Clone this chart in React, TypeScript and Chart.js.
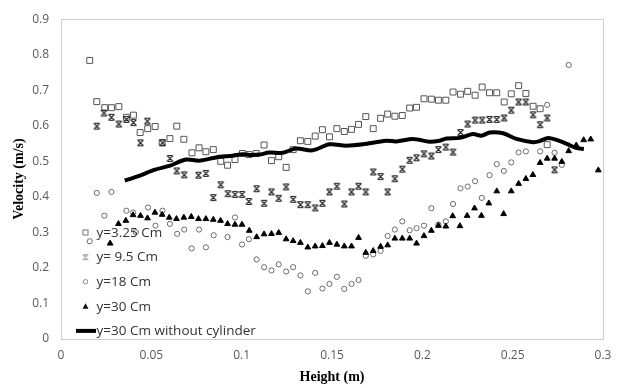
import React, { useEffect, useRef } from 'react';
import { Chart, registerables } from 'chart.js';
Chart.register(...registerables);

// y = 3.25 Cm (squares)
const hA = [0.0159,0.0198,0.0242,0.0279,0.032,0.0362,0.0401,0.0438,0.048,0.0521,0.056,0.0603,0.0641,0.068,0.0725,0.0764,0.0802,0.0843,0.0884,0.0922,0.0963,0.1004,0.104,0.108,0.1124,0.1165,0.1205,0.1246,0.1285,0.1325,0.1366,0.1407,0.1447,0.1486,0.1527,0.1568,0.1608,0.1647,0.1687,0.1728,0.1769,0.1808,0.1848,0.1889,0.193,0.1968,0.2009,0.205,0.2089,0.213,0.217,0.2211,0.2251,0.2292,0.2331,0.2372,0.2412,0.2453,0.2492,0.2533,0.2573,0.2613,0.2652,0.2691];
const vA = [0.784,0.668,0.651,0.651,0.654,0.624,0.630,0.581,0.592,0.598,0.553,0.564,0.599,0.562,0.524,0.538,0.527,0.533,0.500,0.489,0.505,0.522,0.519,0.522,0.546,0.502,0.513,0.483,0.533,0.558,0.556,0.571,0.589,0.569,0.592,0.584,0.590,0.604,0.626,0.592,0.621,0.633,0.627,0.629,0.650,0.652,0.676,0.675,0.672,0.672,0.695,0.689,0.697,0.686,0.709,0.693,0.693,0.667,0.690,0.713,0.691,0.655,0.648,0.547];

// y = 9.5 Cm (stars)
const hB = [0.0198,0.0238,0.0279,0.032,0.0362,0.0401,0.044,0.0478,0.0562,0.0603,0.0641,0.0682,0.0761,0.0802,0.0843,0.0884,0.0924,0.0963,0.1002,0.104,0.1083,0.1124,0.1165,0.1205,0.1246,0.1285,0.1325,0.1366,0.1407,0.1447,0.1486,0.1527,0.1568,0.1608,0.1647,0.1687,0.1728,0.1769,0.1808,0.1848,0.1889,0.193,0.1968,0.2009,0.205,0.2089,0.213,0.217,0.2211,0.2251,0.2292,0.2331,0.2372,0.2412,0.2453,0.2492,0.2533,0.2573,0.2613,0.2652,0.2691,0.2732];
const vB = [0.599,0.636,0.624,0.605,0.618,0.609,0.552,0.613,0.552,0.508,0.473,0.462,0.461,0.466,0.398,0.434,0.409,0.407,0.407,0.387,0.423,0.382,0.414,0.396,0.428,0.393,0.378,0.378,0.369,0.382,0.414,0.430,0.380,0.414,0.430,0.414,0.470,0.457,0.414,0.451,0.478,0.503,0.510,0.521,0.515,0.533,0.540,0.526,0.581,0.605,0.616,0.616,0.618,0.618,0.622,0.644,0.667,0.667,0.631,0.603,0.622,0.476];

// y = 18 Cm (circles)
const hC = [0.0159,0.0198,0.024,0.0279,0.0362,0.0399,0.0414,0.0482,0.0523,0.0562,0.0603,0.0643,0.0682,0.0723,0.0764,0.0802,0.0845,0.0922,0.0963,0.1002,0.104,0.1083,0.1124,0.1165,0.1205,0.1246,0.1285,0.1325,0.1366,0.1407,0.1447,0.1486,0.1527,0.1568,0.1608,0.1647,0.1687,0.1728,0.1769,0.1808,0.1848,0.1889,0.193,0.1968,0.2009,0.205,0.2089,0.213,0.217,0.2211,0.2251,0.2292,0.2329,0.2372,0.2412,0.2451,0.2492,0.2533,0.2573,0.2652,0.2691,0.2732,0.2772,0.281];
const vC = [0.275,0.411,0.347,0.414,0.361,0.356,0.301,0.370,0.319,0.361,0.324,0.296,0.308,0.255,0.308,0.258,0.292,0.287,0.342,0.266,0.281,0.224,0.202,0.193,0.210,0.190,0.202,0.179,0.134,0.186,0.142,0.155,0.175,0.141,0.155,0.166,0.234,0.238,0.248,0.290,0.308,0.331,0.306,0.312,0.319,0.368,0.322,0.331,0.380,0.424,0.429,0.444,0.397,0.461,0.492,0.473,0.497,0.525,0.528,0.528,0.659,0.524,0.490,0.771];

// y = 30 Cm (triangles)
const hD = [0.0272,0.0318,0.0359,0.0399,0.044,0.0479,0.052,0.056,0.0599,0.0639,0.068,0.0721,0.0761,0.0802,0.0843,0.0883,0.0922,0.0963,0.1002,0.1042,0.1083,0.1124,0.1165,0.1205,0.1246,0.1285,0.1325,0.1366,0.1407,0.1447,0.1486,0.1527,0.1568,0.1608,0.1647,0.1687,0.1728,0.1769,0.1808,0.1848,0.1889,0.193,0.1968,0.2009,0.205,0.2089,0.213,0.2168,0.2208,0.2248,0.2289,0.2327,0.2368,0.2412,0.245,0.2492,0.2533,0.2573,0.2612,0.2652,0.2691,0.2732,0.2772,0.281,0.2852,0.2893,0.2932,0.2974];
const vD = [0.269,0.324,0.333,0.349,0.347,0.340,0.356,0.350,0.342,0.338,0.342,0.344,0.338,0.338,0.336,0.333,0.324,0.322,0.322,0.305,0.287,0.295,0.296,0.299,0.281,0.276,0.271,0.258,0.261,0.262,0.271,0.266,0.261,0.261,0.285,0.243,0.248,0.260,0.264,0.283,0.283,0.283,0.269,0.290,0.305,0.319,0.317,0.346,0.318,0.347,0.368,0.347,0.382,0.416,0.352,0.416,0.437,0.451,0.462,0.496,0.508,0.508,0.499,0.529,0.545,0.560,0.562,0.475];

// y = 30 Cm without cylinder (thick line)
const hE = [0.0353,0.0433,0.0516,0.0599,0.0691,0.0765,0.0858,0.095,0.1006,0.1042,0.1098,0.1153,0.1227,0.1301,0.1393,0.1486,0.1579,0.1671,0.18,0.1856,0.1948,0.2041,0.2096,0.2133,0.2207,0.228,0.2327,0.2373,0.2447,0.2521,0.2613,0.265,0.2697,0.2762,0.2817,0.2854,0.2894];
const vE = [0.446,0.459,0.476,0.487,0.505,0.502,0.511,0.516,0.520,0.518,0.519,0.525,0.524,0.536,0.531,0.548,0.544,0.548,0.558,0.556,0.563,0.555,0.558,0.564,0.566,0.577,0.572,0.581,0.579,0.563,0.554,0.557,0.566,0.557,0.545,0.537,0.535];

const seriesLabels = ['y=3.25 Cm', 'y= 9.5 Cm', 'y=18 Cm', 'y=30 Cm', 'y=30 Cm without cylinder'];
const xTicks = [0, 0.05, 0.1, 0.15, 0.2, 0.25, 0.3];

const toPts = (xs: number[], ys: number[]) => xs.map((x, i) => ({ x, y: ys[i] }));

function makeStar(color: string, size: number) {
  const c = document.createElement('canvas');
  c.width = size; c.height = size;
  const g = c.getContext('2d')!;
  g.strokeStyle = color;
  g.lineWidth = 1.1;
  const a = 1.5, b = size - 1.5;
  g.beginPath();
  g.moveTo(a, a); g.lineTo(b, b);
  g.moveTo(b, a); g.lineTo(a, b);
  g.moveTo(a + 1, a); g.lineTo(b - 1, a);
  g.moveTo(a + 1, b); g.lineTo(b - 1, b);
  g.stroke();
  return c;
}

export default function App() {
  const ref = useRef<HTMLCanvasElement>(null);
  useEffect(() => {
    if (!ref.current) return;
    const star = makeStar('#222', 9);
    const legendStar = makeStar('#9a9a9a', 8);

    const framePlugin = {
      id: 'frame',
      beforeDatasetsDraw(chart: any) {
        const { ctx, chartArea: a } = chart;
        ctx.save();
        ctx.strokeStyle = '#cfcfcf';
        ctx.lineWidth = 1;
        ctx.strokeRect(Math.round(a.left) + 0.5, Math.round(a.top) + 0.5, Math.round(a.right - a.left), Math.round(a.bottom - a.top));
        ctx.restore();
      },
    };

    const legendPlugin = {
      id: 'insideLegend',
      afterDatasetsDraw(chart: any) {
        const ctx = chart.ctx;
        ctx.save();
        ctx.font = '13.5px "Open Sans"';
        ctx.textBaseline = 'middle';
        const x0 = 85.5;
        seriesLabels.forEach((label, i) => {
          const y = 232.5 + i * 24.6;
          if (i === 0) {
            ctx.strokeStyle = '#777'; ctx.lineWidth = 1;
            ctx.strokeRect(x0 - 2.5, y - 2.5, 5, 5);
          } else if (i === 1) {
            ctx.drawImage(legendStar, x0 - 4, y - 4);
          } else if (i === 2) {
            ctx.strokeStyle = '#888'; ctx.lineWidth = 1;
            ctx.beginPath(); ctx.arc(x0, y, 2.2, 0, Math.PI * 2); ctx.stroke();
          } else if (i === 3) {
            ctx.fillStyle = '#111';
            ctx.beginPath(); ctx.moveTo(x0, y - 3); ctx.lineTo(x0 + 3, y + 2.5); ctx.lineTo(x0 - 3, y + 2.5); ctx.closePath(); ctx.fill();
          } else {
            ctx.strokeStyle = '#000'; ctx.lineWidth = 4;
            ctx.beginPath(); ctx.moveTo(76, y); ctx.lineTo(96, y); ctx.stroke();
          }
          ctx.fillStyle = '#333';
          ctx.fillText(label, 96.5, y + 0.5);
        });
        ctx.restore();
      },
    };

    const chart = new Chart(ref.current, {
      type: 'scatter',
      data: {
        datasets: [
          {
            label: seriesLabels[0], data: toPts(hA, vA), pointStyle: 'rect', pointRadius: 4.2,
            borderColor: '#555', backgroundColor: 'rgba(0,0,0,0)', borderWidth: 1, order: 4,
          },
          {
            label: seriesLabels[1], data: toPts(hB, vB), pointStyle: star as any, pointRadius: 4,
            borderColor: '#333', backgroundColor: '#333', order: 3,
          },
          {
            label: seriesLabels[2], data: toPts(hC, vC), pointStyle: 'circle', pointRadius: 2.6,
            borderColor: '#6a6a6a', backgroundColor: 'rgba(0,0,0,0)', borderWidth: 1, order: 2,
          },
          {
            label: seriesLabels[3], data: toPts(hD, vD), pointStyle: 'triangle', pointRadius: 3.3,
            borderColor: '#000', backgroundColor: '#000', borderWidth: 1, order: 1,
          },
          {
            label: seriesLabels[4], data: toPts(hE, vE), showLine: true, pointRadius: 0,
            borderColor: '#000', borderWidth: 4, tension: 0.3, order: 0,
          } as any,
        ],
      },
      options: {
        responsive: false,
        animation: false,
        devicePixelRatio: 1,
        layout: { padding: { top: 13, right: 20, left: 0, bottom: 0 } },
        plugins: { legend: { display: false }, tooltip: { enabled: false } },
        scales: {
          x: {
            type: 'linear', min: 0, max: 0.3,
            afterFit: (s: any) => { s.height = 49; },
            afterBuildTicks: (s: any) => { s.ticks = xTicks.map((v) => ({ value: v })); },
            grid: { display: false, drawTicks: false },
            border: { display: false },
            ticks: { color: '#595959', font: { family: '"Open Sans"', size: 12 }, padding: 9, callback: (v: any) => String(v) },
            title: { display: true, text: 'Height (m)', color: '#000', font: { family: '"Liberation Serif"', size: 14, weight: 'bold' }, padding: { bottom: 2, top: 0 } },
          },
          y: {
            type: 'linear', min: 0, max: 0.9,
            afterFit: (s: any) => { s.width = 61; },
            grid: { display: false, drawTicks: false },
            border: { display: false },
            ticks: { stepSize: 0.1, color: '#595959', font: { family: '"Open Sans"', size: 12 }, padding: 12, callback: (v: any) => String(Math.round(v * 10) / 10) },
            title: { display: true, text: 'Velocity (m/s)', color: '#000', font: { family: '"Liberation Serif"', size: 14, weight: 'bold' }, padding: { top: 11, bottom: 0 } },
          },
        },
      },
      plugins: [framePlugin, legendPlugin],
    } as any);
    return () => chart.destroy();
  }, []);
  return (
    <div style={{ position: 'fixed', left: 0, top: 0, width: 623, height: 388, background: '#fff' }}>
      <canvas ref={ref} width={623} height={388} />
    </div>
  );
}
